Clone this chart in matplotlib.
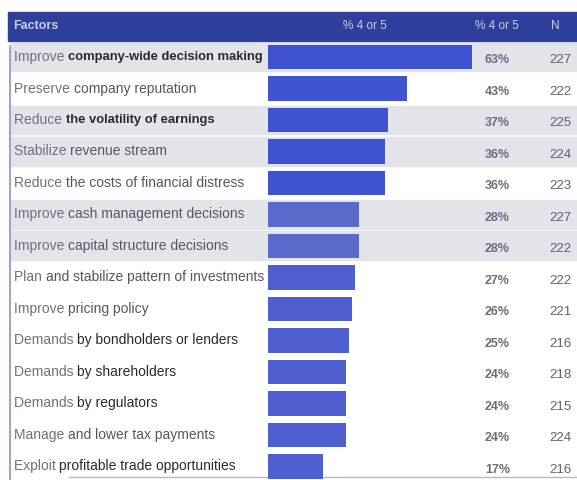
import matplotlib.pyplot as plt

factors = [
    "Improve company-wide decision making",
    "Preserve company reputation",
    "Reduce the volatility of earnings",
    "Stabilize revenue stream",
    "Reduce the costs of financial distress",
    "Improve cash management decisions",
    "Improve capital structure decisions",
    "Plan and stabilize pattern of investments",
    "Improve pricing policy",
    "Demands by bondholders or lenders",
    "Demands by shareholders",
    "Demands by regulators",
    "Manage and lower tax payments",
    "Exploit profitable trade opportunities",
]
pct_4_or_5 = [63, 43, 37, 36, 36, 28, 28, 27, 26, 25, 24, 24, 24, 17]
n_resp = [227, 222, 225, 224, 223, 227, 222, 222, 221, 216, 218, 215, 224, 216]
shaded_rows = [0, 2, 3, 5, 6]
bold_rows = [0, 2]
dark_rows = [0, 2, 9, 10, 11, 13]

# colours
HEADER_BG = "#2f3f9c"
HEADER_FG = "#c9cdea"
STRIPE = "#e3e3ea"
BAR_DARK = "#3f52cf"
BAR_MID = "#4e5fcf"
BAR_LIGHT = "#5a6bcc"

plt.rcParams["font.family"] = ["Liberation Sans", "DejaVu Sans"]

fig = plt.figure(figsize=(5.77, 4.8), dpi=100)
ax = fig.add_axes([0, 0, 1, 1])

# x in percent units, bars start at the 268px mark
ax.set_xlim(-82.7, 95.4)
ax.set_ylim(13.43, -1.81)
ax.axis("off")

# header band
ax.axhspan(-1.43, -0.52, xmin=0.014, xmax=1.0, color=HEADER_BG, zorder=1)
ax.text(0.022, -0.97, "Factors", transform=ax.get_yaxis_transform(),
        color=HEADER_FG, fontsize=9, fontweight="bold", va="center")
ax.text(30, -0.97, "% 4 or 5", color=HEADER_FG, fontsize=8.5, va="center", ha="center")
ax.text(0.862, -0.97, "% 4 or 5", transform=ax.get_yaxis_transform(),
        color=HEADER_FG, fontsize=8.5, va="center", ha="center")
ax.text(0.962, -0.97, "N", transform=ax.get_yaxis_transform(),
        color=HEADER_FG, fontsize=8.5, va="center", ha="center")

# striped row backgrounds
for i in shaded_rows:
    ax.axhspan(i - 0.46, i + 0.46, xmin=0.019, xmax=1.0, color=STRIPE, zorder=0)

# left border and bottom rule
ax.axvline(-79.6, ymin=0.0, ymax=0.905, color="#8a93c4", lw=1.2, zorder=2)
ax.axhline(13.35, xmin=0.12, xmax=1.0, color="#b8b8c0", lw=1.0, zorder=2)

colors = []
for i in range(len(factors)):
    if i < 5:
        colors.append(BAR_DARK)
    elif i < 7:
        colors.append(BAR_LIGHT)
    else:
        colors.append(BAR_MID)

ax.barh(range(len(factors)), pct_4_or_5, height=0.78, color=colors, zorder=3)

for i, (lab, p, n) in enumerate(zip(factors, pct_4_or_5, n_resp)):
    first, rest = lab.split(" ", 1)
    t = ax.text(0.024, i, first + " ", transform=ax.get_yaxis_transform(),
                color="#6e7080", fontsize=10, va="center", zorder=4)
    ax.annotate(rest, xycoords=t, xy=(1, 0.5), va="center",
                color="#2a2a2e" if i in dark_rows else "#55565f",
                fontsize=10 if i not in bold_rows else 9.4, zorder=4,
                fontweight="bold" if i in bold_rows else "normal")
    ax.text(0.862, i + 0.1, f"{p}%", transform=ax.get_yaxis_transform(),
            color="#6a6c7e", fontsize=9, fontweight="bold",
            va="center", ha="center", zorder=4)
    ax.text(0.972, i + 0.1, str(n), transform=ax.get_yaxis_transform(),
            color="#5e6072", fontsize=9.5, va="center", ha="center", zorder=4)

fig.savefig("out.png", dpi=100)
